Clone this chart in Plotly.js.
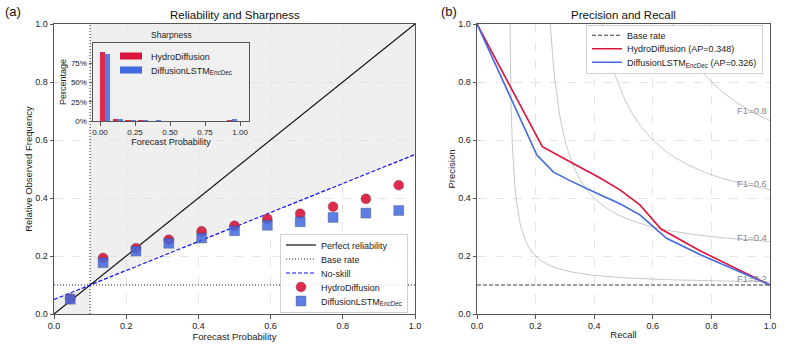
<!DOCTYPE html>
<html><head><meta charset="utf-8">
<script src="https://cdn.plot.ly/plotly-3.0.1.min.js"></script>
<style>html,body{margin:0;padding:0;background:#fff}#chart{width:793px;height:347px}</style>
</head><body><div id="chart"></div>
<script>
// ---------- data ----------
const binCenters = [0.045, 0.136, 0.227, 0.318, 0.409, 0.500, 0.591, 0.682, 0.773, 0.864, 0.955];
const hydroObsFreq = [0.053, 0.193, 0.227, 0.256, 0.285, 0.304, 0.328, 0.346, 0.370, 0.397, 0.444];
const lstmObsFreq  = [0.051, 0.177, 0.217, 0.244, 0.262, 0.287, 0.306, 0.318, 0.333, 0.348, 0.357];
const baseRate = 0.1;

const sharpBinLeft = [0.0000, 0.0909, 0.1818, 0.2727, 0.3636, 0.4545, 0.5455, 0.6364, 0.7273, 0.8182, 0.9091];
const hydroSharp = [0.900, 0.020, 0.012, 0.008, 0.006, 0.005, 0.004, 0.004, 0.004, 0.005, 0.012];
const lstmSharp  = [0.873, 0.030, 0.015, 0.010, 0.007, 0.006, 0.005, 0.005, 0.005, 0.006, 0.020];

const hydroRecall    = [0.000, 0.223, 0.317, 0.420, 0.488, 0.556, 0.628, 0.761, 1.000];
const hydroPrecision = [1.000, 0.577, 0.525, 0.469, 0.428, 0.376, 0.293, 0.218, 0.100];
const lstmRecall     = [0.000, 0.204, 0.260, 0.317, 0.420, 0.488, 0.556, 0.647, 0.761, 1.000];
const lstmPrecision  = [1.000, 0.549, 0.490, 0.460, 0.411, 0.380, 0.342, 0.261, 0.205, 0.100];
const apHydro = 0.348, apLstm = 0.326;
const f1Levels = [0.2, 0.4, 0.6, 0.8];

const mainTicks = [0, 0.2, 0.4, 0.6, 0.8, 1.0];
const insetXTicks = [0, 0.25, 0.5, 0.75, 1.0];
const insetYTicks = [0, 0.25, 0.5, 0.75];
const insetYText = ['0%', '25%', '50%', '75%'];
const labelHydro = 'HydroDiffusion';
const labelLstm = 'DiffusionLSTM<sub>EncDec</sub>';

// ---------- layout helpers ----------
const W = 793, H = 347, ML = 54, MR = 23, MT = 24, MB = 33;
const PW = W - ML - MR, PH = H - MT - MB;
const fx = p => (p - ML) / PW;
const fy = p => (H - MB - p) / PH;

const RED = '#DC143C', BLUE = '#4169E1';
const FONT = 'Liberation Sans, Arial, sans-serif';
const insetXRange = [-0.05, 1.064], insetYRange = [0, 1.015];

const traces = [];
// reliability panel
traces.push({x: [0, 1], y: [0, 1], mode: 'lines', name: 'Perfect reliability',
  line: {color: '#111', width: 1.2}, xaxis: 'x', yaxis: 'y', legend: 'legend'});
traces.push({x: [0, 1, null, baseRate, baseRate], y: [baseRate, baseRate, null, 0, 1], mode: 'lines',
  name: 'Base rate', line: {color: '#222', width: 1, dash: '1px,2px'}, xaxis: 'x', yaxis: 'y', legend: 'legend'});
traces.push({x: [0, 1], y: [(0 + baseRate) / 2, (1 + baseRate) / 2], mode: 'lines', name: 'No-skill',
  line: {color: '#1010ee', width: 1.2, dash: '4px,2px'}, xaxis: 'x', yaxis: 'y', legend: 'legend'});
traces.push({x: binCenters, y: hydroObsFreq, mode: 'markers', name: labelHydro,
  marker: {symbol: 'circle', size: 10, color: RED, opacity: 0.9, line: {color: 'rgba(80,80,80,0.6)', width: 0.6}},
  xaxis: 'x', yaxis: 'y', legend: 'legend'});
traces.push({x: binCenters, y: lstmObsFreq, mode: 'markers', name: labelLstm,
  marker: {symbol: 'square', size: 10, color: BLUE, opacity: 0.85, line: {color: 'rgba(60,60,60,0.6)', width: 0.6}},
  xaxis: 'x', yaxis: 'y', legend: 'legend'});
// inset sharpness
traces.push({type: 'bar', x: sharpBinLeft, y: hydroSharp, width: 0.036, offset: 0, name: labelHydro,
  marker: {color: RED, opacity: 0.9}, xaxis: 'x3', yaxis: 'y3', legend: 'legend3'});
traces.push({type: 'bar', x: sharpBinLeft, y: lstmSharp, width: 0.036, offset: 0.036, name: labelLstm,
  marker: {color: BLUE, opacity: 0.85}, xaxis: 'x3', yaxis: 'y3', legend: 'legend3'});
// PR panel: iso-F1 reference curves
const annotations = [];
f1Levels.forEach(f => {
  const xs = [], ys = [];
  const x0 = 1.5 * f / (3 - f);
  for (let i = 0; i <= 200; i++) {
    const r = x0 + (1 - x0) * i / 200;
    xs.push(r); ys.push(f * r / (2 * r - f));
  }
  traces.push({x: xs, y: ys, mode: 'lines', showlegend: false, hoverinfo: 'skip',
    line: {color: 'rgba(0,0,0,0.28)', width: 0.8}, xaxis: 'x2', yaxis: 'y2'});
  const rl = 0.95;
  annotations.push({xref: 'x2', yref: 'y2', x: 0.88, y: f * rl / (2 * rl - f) + 0.01, xanchor: 'left', yanchor: 'middle',
    text: 'F1=' + f.toFixed(1), showarrow: false, font: {size: 9.5, color: '#8a8a8a', family: FONT}});
});
traces.push({x: [0, 1], y: [baseRate, baseRate], mode: 'lines', name: 'Base rate',
  line: {color: '#222', width: 0.9, dash: '4px,2px'}, xaxis: 'x2', yaxis: 'y2', legend: 'legend2'});
traces.push({x: hydroRecall, y: hydroPrecision, mode: 'lines', name: labelHydro + ' (AP=' + apHydro.toFixed(3) + ')',
  line: {color: RED, width: 1.6}, xaxis: 'x2', yaxis: 'y2', legend: 'legend2'});
traces.push({x: lstmRecall, y: lstmPrecision, mode: 'lines', name: labelLstm + ' (AP=' + apLstm.toFixed(3) + ')',
  line: {color: BLUE, width: 1.6}, xaxis: 'x2', yaxis: 'y2', legend: 'legend2'});

// titles / panel labels
annotations.push({xref: 'x domain', yref: 'paper', x: 0.5, y: fy(15), text: 'Reliability and Sharpness', showarrow: false,
  xanchor: 'center', yanchor: 'middle', font: {size: 11.5, color: '#111', family: FONT}});
annotations.push({xref: 'x2 domain', yref: 'paper', x: 0.5, y: fy(15), text: 'Precision and Recall', showarrow: false,
  xanchor: 'center', yanchor: 'middle', font: {size: 11.5, color: '#111', family: FONT}});
annotations.push({xref: 'paper', yref: 'paper', x: fx(13), y: fy(11), text: '(a)', showarrow: false,
  xanchor: 'center', yanchor: 'middle', font: {size: 13, color: '#111', family: FONT}});
annotations.push({xref: 'paper', yref: 'paper', x: fx(449), y: fy(11), text: '(b)', showarrow: false,
  xanchor: 'center', yanchor: 'middle', font: {size: 13, color: '#111', family: FONT}});
annotations.push({xref: 'x3 domain', yref: 'paper', x: 0.5, y: fy(35), text: 'Sharpness', showarrow: false,
  xanchor: 'center', yanchor: 'middle', font: {size: 8.5, color: '#222', family: FONT}});

const shapes = [
  {type: 'path', xref: 'x', yref: 'y', layer: 'below', line: {width: 0}, fillcolor: '#efefef',
    path: `M${baseRate},${baseRate} L1,${(1 + baseRate) / 2} L1,1 L${baseRate},1 Z`},
  {type: 'path', xref: 'x', yref: 'y', layer: 'below', line: {width: 0}, fillcolor: '#efefef',
    path: `M0,0 L${baseRate},0 L${baseRate},${baseRate} L0,${baseRate / 2} Z`},
  {type: 'rect', xref: 'x3', yref: 'y3', layer: 'below', line: {width: 0}, fillcolor: '#f0f0f0',
    x0: insetXRange[0], x1: insetXRange[1], y0: insetYRange[0], y1: insetYRange[1]}
];

const axBase = {showline: true, linecolor: '#555', linewidth: 1, mirror: true, zeroline: false,
  ticks: 'outside', ticklen: 3.5, tickcolor: '#555', tickfont: {size: 9, color: '#222', family: FONT},
  showgrid: true, gridcolor: '#dedede', gridwidth: 0.8, griddash: 'dash'};
const mainAx = Object.assign({}, axBase, {range: [0, 1], tickvals: mainTicks, tickformat: '.1f'});

const legendFont = {size: 9, family: FONT, color: '#222'};
const layout = {
  width: W, height: H, margin: {l: ML, r: MR, t: MT, b: MB},
  paper_bgcolor: '#fff', plot_bgcolor: 'rgba(0,0,0,0)',
  font: {family: FONT, color: '#222'},
  showlegend: true,
  xaxis: Object.assign({}, mainAx, {domain: [0, fx(415)], anchor: 'y',
    title: {text: 'Forecast Probability', font: {size: 9.5, family: FONT}, standoff: 3}}),
  yaxis: Object.assign({}, mainAx, {domain: [0, 1], anchor: 'x',
    title: {text: 'Relative Observed Frequency', font: {size: 9.5, family: FONT}, standoff: 0}}),
  xaxis2: Object.assign({}, mainAx, {domain: [fx(477), 1], anchor: 'y2',
    title: {text: 'Recall', font: {size: 9.5, family: FONT}, standoff: 1}}),
  yaxis2: Object.assign({}, mainAx, {domain: [0, 1], anchor: 'x2',
    title: {text: 'Precision', font: {size: 9.5, family: FONT}, standoff: 0}}),
  xaxis3: Object.assign({}, axBase, {domain: [fx(93), fx(249)], anchor: 'y3', range: insetXRange,
    tickvals: insetXTicks, tickformat: '.2f', showgrid: false, tickfont: {size: 8, color: '#222', family: FONT},
    title: {text: 'Forecast Probability', font: {size: 9, family: FONT}, standoff: 1}}),
  yaxis3: Object.assign({}, axBase, {domain: [fy(121), fy(43)], anchor: 'x3', range: insetYRange,
    tickvals: insetYTicks, ticktext: insetYText, showgrid: false, tickfont: {size: 8, color: '#222', family: FONT},
    title: {text: 'Percentage', font: {size: 9, family: FONT}, standoff: 2}}),
  legend: {x: fx(280), xanchor: 'left', y: fy(313), yanchor: 'bottom', bgcolor: 'rgba(255,255,255,0.85)',
    bordercolor: '#d0d0d0', borderwidth: 1, font: legendFont},
  legend2: {x: fx(586), xanchor: 'left', y: fy(24.5), yanchor: 'top', bgcolor: 'rgba(255,255,255,0.85)',
    bordercolor: '#d0d0d0', borderwidth: 1, font: legendFont},
  legend3: {x: fx(111), xanchor: 'left', y: fy(45), yanchor: 'top', bgcolor: 'rgba(0,0,0,0)',
    borderwidth: 0, font: legendFont},
  annotations: annotations,
  shapes: shapes,
  bargap: 0
};

// compact legend rows (matplotlib-like spacing) after Plotly has drawn them
function compactLegend(gd, id, step, anchorBottom, patch) {
  try {
    const g = gd.querySelector('g.' + id);
    if (!g) return;
    const items = Array.from(g.querySelectorAll('g.traces'));
    if (!items.length) return;
    const tr = el => {
      const m = /translate\(\s*([-\d.e]+)[ ,]+([-\d.e]+)\s*\)/.exec(el.getAttribute('transform') || '');
      return m ? [parseFloat(m[1]), parseFloat(m[2])] : [0, 0];
    };
    const bw = 1;
    items.forEach((it, i) => {
      const p = tr(it);
      it.setAttribute('transform', `translate(${p[0]},${bw + 3 + step / 2 + i * step})`);
      if (patch) {
        it.querySelectorAll('g.legendpoints path').forEach(pth => pth.setAttribute('d', patch));
      }
    });
    const bg = g.querySelector('rect.bg');
    const oldH = parseFloat(bg.getAttribute('height'));
    const newH = items.length * step + 2 * bw + 6;
    bg.setAttribute('height', newH);
    if (anchorBottom) {
      const p = tr(g);
      g.setAttribute('transform', `translate(${p[0]},${p[1] + (oldH - newH)})`);
    }
  } catch (e) { /* keep default legend */ }
}

Plotly.newPlot('chart', traces, layout, {displayModeBar: false, staticPlot: true}).then(gd => {
  compactLegend(gd, 'legend', 14, true);
  compactLegend(gd, 'legend2', 13.5, false);
  compactLegend(gd, 'legend3', 14, false, 'M11,3.5H-11V-3.5H11Z');
});
</script>
</body></html>
